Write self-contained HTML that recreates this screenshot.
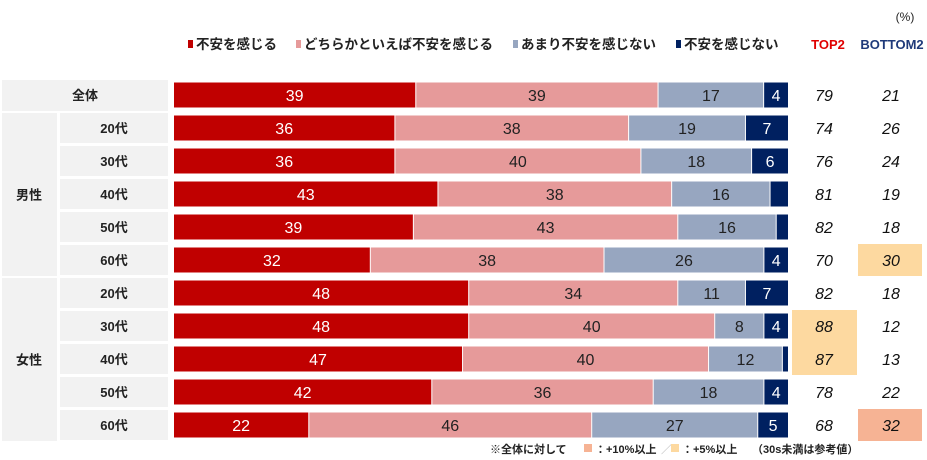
<!DOCTYPE html>
<html><head><meta charset="utf-8">
<style>
html,body{margin:0;padding:0;background:#fff;}
svg{display:block;font-family:"Liberation Sans","Noto Sans CJK JP",sans-serif;}
</style></head>
<body>
<svg id="chart" width="927" height="460" viewBox="0 0 927 460"></svg>
<script>
const rowLabels=["全体","20代","30代","40代","50代","60代","20代","30代","40代","50代","60代"];
const groupLabels=["男性","女性"];
const seriesNames=["不安を感じる","どちらかといえば不安を感じる","あまり不安を感じない","不安を感じない"];
const s1=[39,36,36,43,39,32,48,48,47,42,22];
const s2=[39,38,40,38,43,38,34,40,40,36,46];
const s3=[17,19,18,16,16,26,11,8,12,18,27];
const s4=[4,7,6,3,2,4,7,4,1,4,5];
const top2=[79,74,76,81,82,70,82,88,87,78,68];
const bottom2=[21,26,24,19,18,30,18,12,13,22,32];
const top2Hi=[0,0,0,0,0,0,0,1,1,0,0];
const bottom2Hi=[0,0,0,0,0,1,0,0,0,0,2];

const colors=["#c00000","#e69a9a","#97a6c0","#002060"];
const txtColors=["#fff","#222","#222","#fff"];
const hiColors=["none","#fdd9a0","#f6b394"];
const svg=document.getElementById('chart');
const NS="http://www.w3.org/2000/svg";
function mk(tag,attrs,parent){const e=document.createElementNS(NS,tag);for(const k in attrs)e.setAttribute(k,attrs[k]);(parent||svg).appendChild(e);return e;}
const x0=174,x1=789;
const rowY=i=>95+i*33;
function xs(v,total){return v/total*(x1-x0);}

let t=mk('text',{x:905,y:21,'font-size':12,fill:'#222','text-anchor':'middle'});t.textContent="(%)";

const legX=[188,296,513,676];
seriesNames.forEach((n,k)=>{
  const g=mk('g',{});
  
  
  mk('rect',{x:legX[k],y:40,width:5,height:8,fill:colors[k]},g);
  const tt=mk('text',{x:legX[k]+8,y:49,'font-size':13.5,'font-weight':'bold',fill:'#222'},g);tt.textContent=n;
});
t=mk('text',{x:828,y:49,'font-size':13,'font-weight':'bold',fill:'#e00000','text-anchor':'middle'});t.textContent="TOP2";

t=mk('text',{x:892,y:49,'font-size':13,'font-weight':'bold',fill:'#1f3a7a','text-anchor':'middle'});t.textContent="BOTTOM2";


let c=mk('rect',{x:2,y:rowY(0)-15,width:166,height:31,fill:'#f2f2f2'});

t=mk('text',{x:85,y:rowY(0)+5,'font-size':13,'font-weight':'bold',fill:'#222','text-anchor':'middle'});t.textContent=rowLabels[0];
[[1,5],[6,10]].forEach(([a,b],gi)=>{
  const top=rowY(a)-15,bot=rowY(b)+16;
  const r=mk('rect',{x:2,y:top,width:55,height:bot-top,fill:'#f2f2f2'});
  
  const tx=mk('text',{x:29,y:(top+bot)/2+5,'font-size':13,'font-weight':'bold',fill:'#222','text-anchor':'middle'});tx.textContent=groupLabels[gi];
  for(let i=a;i<=b;i++){
    const rr=mk('rect',{x:60,y:rowY(i)-15,width:108,height:30,fill:'#f2f2f2'});
    
    const t2=mk('text',{x:114,y:rowY(i)+5,'font-size':13,'font-weight':'bold',fill:'#222','text-anchor':'middle'});t2.textContent=rowLabels[i];
  }
});

function hiBoxes(arr,x,w){
  let i=0;
  while(i<arr.length){
    if(arr[i]){let j=i;while(j+1<arr.length&&arr[j+1]===arr[i])j++;
      const r=mk('rect',{x:x,y:rowY(i)-16,width:w,height:rowY(j)-rowY(i)+32,fill:hiColors[arr[i]]});
      
      i=j+1;}else i++;
  }
}
hiBoxes(top2Hi,792,65);
hiBoxes(bottom2Hi,858,64);

const series=[s1,s2,s3,s4];
for(let i=0;i<rowLabels.length;i++){
  const total=s1[i]+s2[i]+s3[i]+s4[i];
  let x=x0;
  for(let k=0;k<4;k++){
    const v=series[k][i],w=xs(v,total);
    const r=mk('rect',{x:x,y:rowY(i)-12.5,width:Math.max(w-1,0),height:25,fill:colors[k]});
    
    
    if(v>=4){
      const tx=mk('text',{x:x+w/2-0.5,y:rowY(i)+6,'font-size':16,fill:txtColors[k],'text-anchor':'middle'});
      tx.textContent=v;
      
      
    }
    x+=w;
  }
  const a=mk('text',{x:824,y:rowY(i)+6,'font-size':16,'font-style':'italic',fill:'#111','text-anchor':'middle'});a.textContent=top2[i];
  
  const b=mk('text',{x:891,y:rowY(i)+6,'font-size':16,'font-style':'italic',fill:'#111','text-anchor':'middle'});b.textContent=bottom2[i];
  
}

const f=mk('g',{});

let ft=mk('text',{x:490,y:453,'font-size':11,'font-weight':'bold',fill:'#222'},f);ft.textContent="※全体に対して";
mk('rect',{x:584,y:444,width:8,height:8,fill:'#f6b394'},f);
ft=mk('text',{x:595,y:453,'font-size':11,'font-weight':'bold',fill:'#222'},f);ft.textContent="：+10%以上";
ft=mk('text',{x:661,y:453,'font-size':11,fill:'#bbb'},f);ft.textContent="／";
mk('rect',{x:671,y:444,width:8,height:8,fill:'#fdd9a0'},f);
ft=mk('text',{x:682,y:453,'font-size':11,'font-weight':'bold',fill:'#222'},f);ft.textContent="：+5%以上";
ft=mk('text',{x:752,y:453,'font-size':11,'font-weight':'bold',fill:'#222'},f);ft.textContent="（30s未満は参考値）";
</script>
</body></html>
